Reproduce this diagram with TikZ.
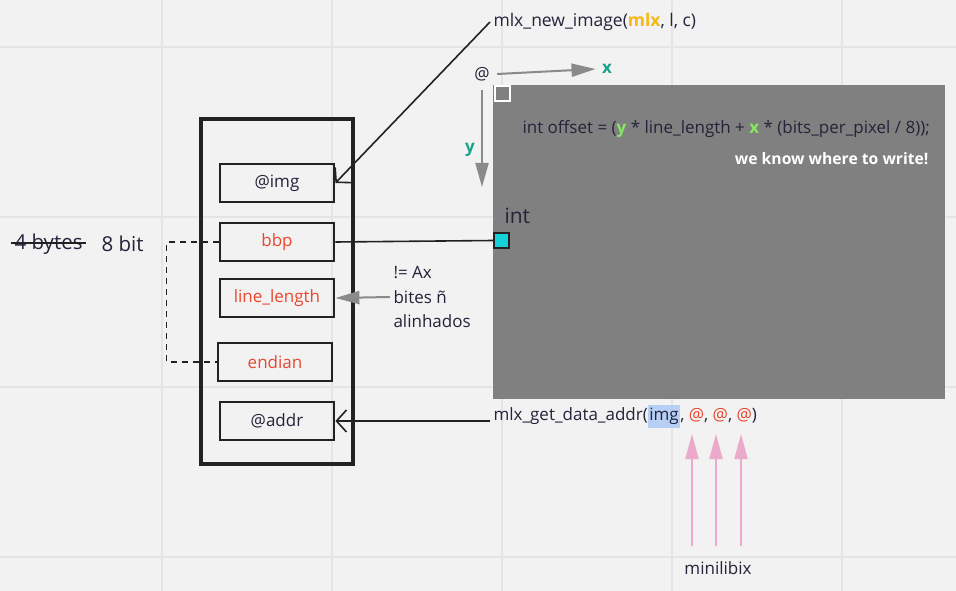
\documentclass[tikz,border=0pt]{standalone}
\usepackage{fontspec}
\setmainfont{Open Sans}
\usepackage{tikz}
\usetikzlibrary{arrows.meta, positioning, calc}
\definecolor{bgpaper}{HTML}{F2F2F2}
\definecolor{gridline}{HTML}{E4E4E4}
\definecolor{textdark}{HTML}{23233A}
\definecolor{boxline}{HTML}{222222}
\definecolor{fieldred}{HTML}{E8472E}
\definecolor{canvasgray}{HTML}{808080}
\definecolor{axisgray}{HTML}{8A8A8A}
\definecolor{axisteal}{HTML}{17A38B}
\definecolor{lime}{HTML}{86E862}
\definecolor{mlxyellow}{HTML}{F5B814}
\definecolor{pixcyan}{HTML}{16D0DA}
\definecolor{hlblue}{HTML}{B8CFF5}
\definecolor{pink}{HTML}{EBA9CC}
\newcommand{\hlword}[1]{{\setlength{\fboxsep}{1.5pt}\colorbox{hlblue}{\strut #1}}}

\begin{document}
\begin{tikzpicture}[x=1pt, y=-1pt, text=textdark,
        font=\fontsize{17}{20}\selectfont,
        field/.style={draw=boxline, line width=2.8pt, minimum width=114pt, minimum height=38pt, inner sep=0pt},
        refarrow/.style={-{Straight Barb[length=10pt, width=22pt]}, line width=1.6pt, boxline},
        grayarrow/.style={-{Triangle[length=24pt, width=13pt]}, line width=2pt, axisgray},
        pinkarrow/.style={-{Triangle[length=25pt, width=13pt]}, line width=2pt, pink}]
        % Paper and grid
        \fill [bgpaper] (0,0) rectangle (956,591);
        \useasboundingbox (0,0) rectangle (956,591);
        \foreach \gx in {162,332,502,672,842}
            \draw [gridline, line width=1.5pt] (\gx,0) -- (\gx,591);
        \foreach \gy in {47,217,387,557}
            \draw [gridline, line width=1.5pt] (0,\gy) -- (956,\gy);
        % Image struct
        \node [draw=boxline, line width=3.3pt, minimum width=152pt, minimum height=345pt] (imgstruct) at (277,291.5) {};
        \node [field] (img) at (277,183) {@img};
        \node [field, text=fieldred] (bbp) at (277,242) {bbp};
        \node [field, text=fieldred] (linelen) at (277,298) {line\_length};
        \node [field, text=fieldred] (endian) at (275,362) {endian};
        \node [field] (addr) at (277,421) {@addr};
        % Bits per pixel
        \node [anchor=west, font=\fontsize{20.5}{24}\selectfont] (fourbytes) at (11,244) {4 bytes};
        \node [right=12pt of fourbytes, font=\fontsize{20.5}{24}\selectfont] (eightbit) {8 bit};
        \draw [boxline, line width=1.3pt] ([yshift=1pt]fourbytes.west) -- ([yshift=1pt]fourbytes.east);
        \draw [boxline, line width=1.6pt, dash pattern=on 6pt off 5pt] (bbp.west) -- ++(-52,0) |- (endian.west);
        % Canvas
        \node [fill=canvasgray, minimum width=452pt, minimum height=314pt, inner sep=0pt, anchor=north west] (canvas) at (493,85) {};
        \node [draw=white, line width=2pt, fill=canvasgray, minimum size=15pt, inner sep=0pt] (origin) at (502,93.5) {};
        \node [draw=boxline, line width=1.6pt, fill=pixcyan, minimum size=15pt, inner sep=0pt] (pixel) at (501.5,240.5) {};
        \node [anchor=west, font=\fontsize{21}{24}\selectfont] (intlbl) at (501,216) {int};
        \node [anchor=west] (offset) at (519,129)
            {int offset = (\textcolor{lime}{\textbf{y}} * line\_length + \textcolor{lime}{\textbf{x}} * (bits\_per\_pixel / 8));};
        \node [anchor=east, text=white, font=\fontsize{15.7}{18}\selectfont\bfseries] (know) at (932,159) {we know where to write!};
        % Axes
        \node (at) at (482,74) {@};
        \node [text=axisteal, font=\fontsize{17}{20}\selectfont\bfseries] (xlbl) at (607,69) {x};
        \node [text=axisteal, font=\fontsize{17}{20}\selectfont\bfseries] (ylbl) at (470,150) {y};
        \coordinate (yend) at (482,187);
        \draw [grayarrow] ([xshift=4pt]at.east) -- ([xshift=-3pt]xlbl.west);
        \draw [grayarrow] ([yshift=-6pt]at.south) -- (yend);
        % Calls
        \node [anchor=west, font=\fontsize{17.5}{20}\selectfont] (newimg) at (490,22) {mlx\_new\_image(\textcolor{mlxyellow}{\textbf{mlx}}, l, c)};
        \node [anchor=west] (getaddr) at (490,416)
            {mlx\_get\_data\_addr(\hlword{img}, \textcolor{fieldred}{@}, \textcolor{fieldred}{@}, \textcolor{fieldred}{@})};
        \draw [refarrow] (newimg.west) -- (img.east);
        \draw [refarrow] ([yshift=-5pt]getaddr.west) -- (addr.east);
        \draw [boxline, line width=1.6pt] (bbp.east) -- (pixel.west);
        % Alignment note
        \node [anchor=west, align=left, font=\fontsize{17}{24.5}\selectfont] (note) at (390,297) {!= Ax\\bites ñ\\alinhados};
        \draw [grayarrow] (note.west) -- (linelen.east);
        % minilibix
        \node (mini) at (718,568) {minilibix};
        \foreach \px/\nm in {692/argA, 716/argB, 741/argC} {
            \coordinate (\nm) at (\px,434);
            \coordinate (\nm tail) at (\px,546);
            \draw [pinkarrow] (\nm tail) -- (\nm);
        }
    \end{tikzpicture}
\end{document}
